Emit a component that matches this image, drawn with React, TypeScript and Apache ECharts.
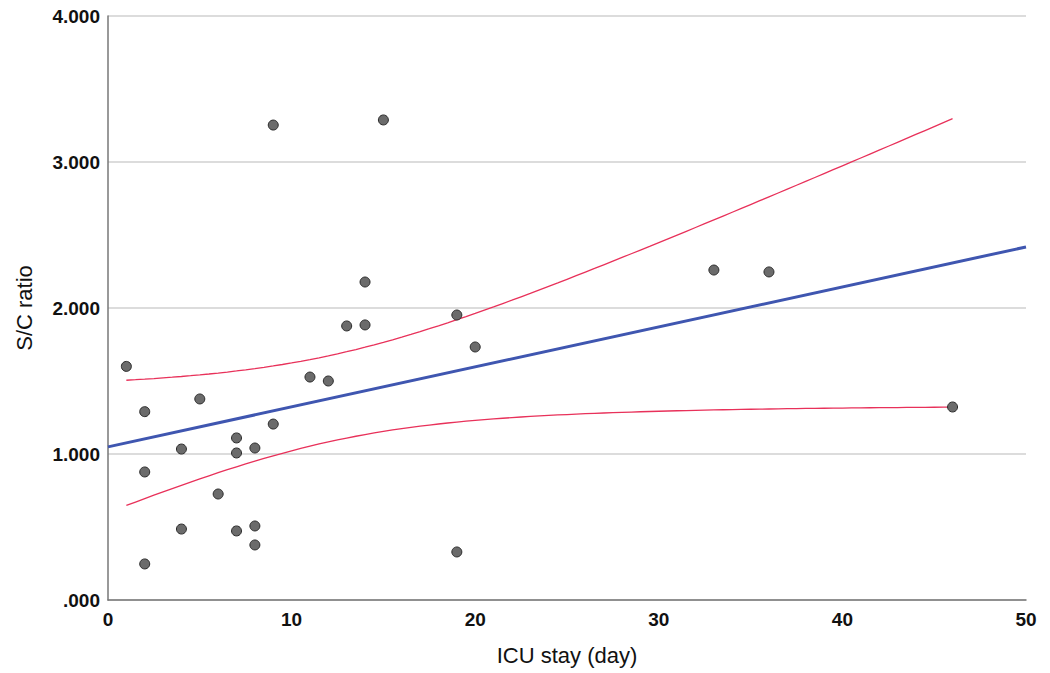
import React, { useEffect, useRef } from "react";
import * as echarts from "echarts";

const icuStayDays = [1, 2, 2, 2, 4, 4, 5, 6, 7, 7, 7, 8, 8, 8, 9, 9, 11, 12, 13, 14, 14, 15, 19, 19, 20, 33, 36, 46];
const scRatio = [1.6, 1.29, 0.877, 0.247, 1.034, 0.486, 1.377, 0.726, 1.11, 1.007, 0.473, 1.041, 0.507, 0.377, 3.253, 1.205, 1.527, 1.5, 1.877, 1.884, 2.178, 3.288, 1.952, 0.329, 1.733, 2.26, 2.247, 1.322];
const yTickLabels = [".000", "1.000", "2.000", "3.000", "4.000"];
const xTitle = "ICU stay (day)";
const yTitle = "S/C ratio";
const tCritical = 2.056; // t(0.975, df = 26)

function fitStats() {
  const n = icuStayDays.length;
  const mx = icuStayDays.reduce((a, b) => a + b, 0) / n;
  const my = scRatio.reduce((a, b) => a + b, 0) / n;
  let sxx = 0, sxy = 0;
  for (let i = 0; i < n; i++) {
    sxx += (icuStayDays[i] - mx) ** 2;
    sxy += (icuStayDays[i] - mx) * (scRatio[i] - my);
  }
  const slope = sxy / sxx;
  const intercept = my - slope * mx;
  let sse = 0;
  for (let i = 0; i < n; i++) {
    const r = scRatio[i] - (intercept + slope * icuStayDays[i]);
    sse += r * r;
  }
  const s = Math.sqrt(sse / (n - 2));
  return { n, mx, sxx, slope, intercept, s };
}

export default function App() {
  const ref = useRef<HTMLDivElement>(null);
  useEffect(() => {
    document.body.style.margin = "0";
    if (!ref.current) return;
    const chart = echarts.init(ref.current, undefined, { renderer: "svg" });
    const f = fitStats();
    const xMin = Math.min(...icuStayDays);
    const xMax = Math.max(...icuStayDays);
    const upper: number[][] = [];
    const lower: number[][] = [];
    const steps = 90;
    for (let k = 0; k <= steps; k++) {
      const x = xMin + ((xMax - xMin) * k) / steps;
      const yh = f.intercept + f.slope * x;
      const h = tCritical * f.s * Math.sqrt(1 / f.n + (x - f.mx) ** 2 / f.sxx);
      upper.push([x, yh + h]);
      lower.push([x, yh - h]);
    }
    const fitLine = [
      [0, f.intercept],
      [50, f.intercept + f.slope * 50],
    ];
    const font = "Liberation Sans, Arial, sans-serif";
    chart.setOption({
      animation: false,
      grid: { left: 108, right: 24, top: 16, bottom: 73, containLabel: false },
      xAxis: {
        type: "value",
        min: 0,
        max: 50,
        interval: 10,
        name: xTitle,
        nameLocation: "middle",
        nameGap: 44,
        nameTextStyle: { fontFamily: font, fontSize: 22, color: "#111" },
        axisLine: { show: true, lineStyle: { color: "#777", width: 1.5 } },
        axisTick: { show: false },
        axisLabel: { fontFamily: font, fontSize: 19, fontWeight: "bold", color: "#111", margin: 10 },
        splitLine: { show: false },
      },
      yAxis: {
        type: "value",
        min: 0,
        max: 4,
        interval: 1,
        name: yTitle,
        nameLocation: "middle",
        nameGap: 73,
        nameRotate: 90,
        nameTextStyle: { fontFamily: font, fontSize: 22, color: "#111" },
        axisLine: { show: true, lineStyle: { color: "#777", width: 1.5 } },
        axisTick: { show: false },
        axisLabel: {
          fontFamily: font,
          fontSize: 19,
          fontWeight: "bold",
          color: "#111",
          margin: 8,
          formatter: (v: number) => yTickLabels[Math.round(v)] ?? "",
        },
        splitLine: { show: true, lineStyle: { color: "#d0d0d0", width: 1.5 } },
      },
      series: [
        {
          type: "line",
          data: upper,
          showSymbol: false,
          lineStyle: { color: "#e8315a", width: 1.3 },
          z: 2,
        },
        {
          type: "line",
          data: lower,
          showSymbol: false,
          lineStyle: { color: "#e8315a", width: 1.3 },
          z: 2,
        },
        {
          type: "line",
          data: fitLine,
          showSymbol: false,
          lineStyle: { color: "#3f56b0", width: 3 },
          z: 3,
        },
        {
          type: "scatter",
          data: icuStayDays.map((x, i) => [x, scRatio[i]]),
          symbolSize: 10,
          itemStyle: { color: "#6b6b6b", borderColor: "#2a2a2a", borderWidth: 1, opacity: 1 },
          z: 4,
        },
      ],
    });
    return () => chart.dispose();
  }, []);
  return <div ref={ref} style={{ width: 1050, height: 673 }} />;
}
